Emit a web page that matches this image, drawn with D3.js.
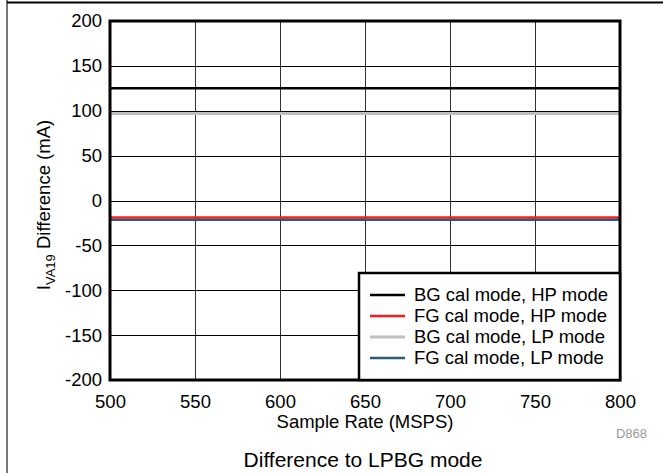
<!DOCTYPE html>
<html><head><meta charset="utf-8">
<script src="https://cdn.jsdelivr.net/npm/d3@7"></script>
<style>body{margin:0;background:#fff}svg{display:block}text{font-family:"Liberation Sans",Arial,sans-serif}</style>
</head><body>
<svg id="c" width="663" height="473"></svg>
<script>
const sampleRates = [500, 550, 600, 650, 700, 750, 800];
const bgCalHP = [125, 125, 125, 125, 125, 125, 125];
const fgCalHP = [-19, -19, -19, -19, -19, -19, -19];
const bgCalLP = [97, 97, 97, 97, 97, 97, 97];
const fgCalLP = [-21.5, -21.5, -21.5, -21.5, -21.5, -21.5, -21.5];
const seriesNames = ["BG cal mode, HP mode", "FG cal mode, HP mode", "BG cal mode, LP mode", "FG cal mode, LP mode"];
const seriesColors = ["#000000", "#ff1a1a", "#c0c0c0", "#2e5b78"];
const seriesWidths = [2.5, 2.5, 3, 2.5];
const xTicks = [500, 550, 600, 650, 700, 750, 800];
const yTicks = [-200, -150, -100, -50, 0, 50, 100, 150, 200];

const svg = d3.select("#c");
const L = 110, R = 620, T = 21, B = 380;
const FS = 18.5;
const x = d3.scaleLinear().domain([500, 800]).range([L, R]);
const y = d3.scaleLinear().domain([-200, 200]).range([B, T]);

// outer frame
svg.append("line").attr("x1", 7).attr("x2", 7).attr("y1", 0).attr("y2", 473).attr("stroke", "#777").attr("stroke-width", 2);
svg.append("line").attr("x1", 7).attr("x2", 663).attr("y1", 2.5).attr("y2", 2.5).attr("stroke", "#000").attr("stroke-width", 2);

// grid
svg.append("g").selectAll("line").data(xTicks.slice(1, -1)).join("line")
  .attr("x1", d => Math.round(x(d)) + 0.5).attr("x2", d => Math.round(x(d)) + 0.5)
  .attr("y1", T).attr("y2", B).attr("stroke", "#333").attr("stroke-width", 1);
svg.append("g").selectAll("line").data(yTicks.slice(1, -1)).join("line")
  .attr("y1", d => Math.round(y(d)) + 0.5).attr("y2", d => Math.round(y(d)) + 0.5)
  .attr("x1", L).attr("x2", R).attr("stroke", "#000").attr("stroke-width", 1);

// series
const allSeries = [bgCalHP, fgCalHP, bgCalLP, fgCalLP];
const line = d3.line().x((d, i) => x(sampleRates[i])).y(d => y(d));
allSeries.forEach((s, k) => {
  svg.append("path").datum(s).attr("d", line).attr("fill", "none")
    .attr("stroke", seriesColors[k]).attr("stroke-width", seriesWidths[k]);
});

// axes (labels only)
const xAxis = d3.axisBottom(x).tickValues(xTicks).tickSize(0).tickPadding(15).tickFormat(d => String(d));
const gx = svg.append("g").attr("transform", `translate(0,${B})`).call(xAxis);
gx.select(".domain").remove();
gx.selectAll("text").attr("font-size", FS).attr("font-family", "Liberation Sans, Arial, sans-serif").attr("fill", "#000");

const yAxis = d3.axisLeft(y).tickValues(yTicks).tickSize(0).tickPadding(8).tickFormat(d => String(d));
const gy = svg.append("g").attr("transform", `translate(${L},0)`).call(yAxis);
gy.select(".domain").remove();
gy.selectAll("text").attr("font-size", FS).attr("font-family", "Liberation Sans, Arial, sans-serif").attr("fill", "#000");

// plot border
svg.append("rect").attr("x", L).attr("y", T).attr("width", R - L).attr("height", B - T)
  .attr("fill", "none").attr("stroke", "#000").attr("stroke-width", 3);

// legend
const lg = svg.append("g");
lg.append("rect").attr("x", 359).attr("y", 273).attr("width", R - 359).attr("height", B - 273)
  .attr("fill", "#fff").attr("stroke", "#000").attr("stroke-width", 2.5);
seriesNames.forEach((n, k) => {
  const yy = 295 + k * 21;
  lg.append("line").attr("x1", 370).attr("x2", 405).attr("y1", yy).attr("y2", yy)
    .attr("stroke", seriesColors[k]).attr("stroke-width", seriesWidths[k]);
  lg.append("text").attr("x", 414).attr("y", yy).attr("dy", "0.35em").attr("font-size", FS).text(n);
});

// axis titles
svg.append("text").attr("x", (L + R) / 2).attr("y", 428).attr("text-anchor", "middle").attr("font-size", FS).text("Sample Rate (MSPS)");
const yt = svg.append("text").attr("transform", "translate(50,205) rotate(-90)").attr("text-anchor", "middle").attr("font-size", FS);
yt.append("tspan").text("I");
yt.append("tspan").attr("font-size", 13).attr("dy", 5).text("VA19");
yt.append("tspan").attr("dy", -5).text(" Difference (mA)");

svg.append("text").attr("x", 647).attr("y", 438).attr("text-anchor", "end").attr("font-size", 13).attr("fill", "#999").text("D868");
svg.append("text").attr("x", 363).attr("y", 467).attr("text-anchor", "middle").attr("font-size", 21).text("Difference to LPBG mode");
</script>
</body></html>
